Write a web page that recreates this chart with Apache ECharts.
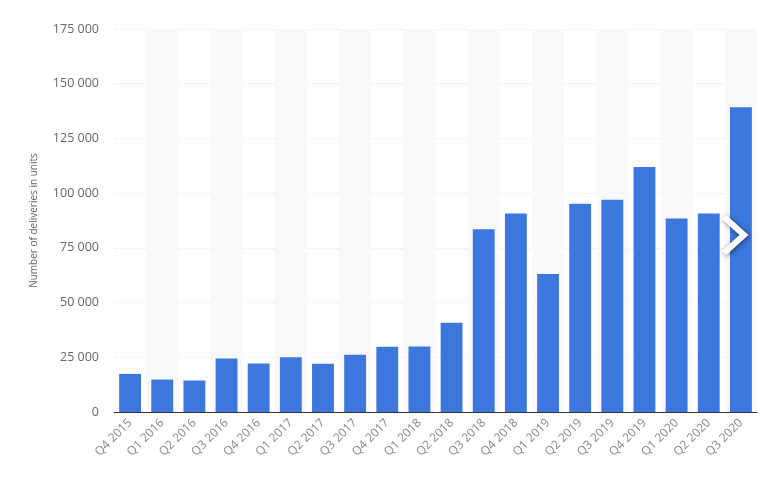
<!DOCTYPE html>
<html><head><meta charset="utf-8">
<script src="https://cdn.jsdelivr.net/npm/echarts@6/dist/echarts.min.js"></script>
<style>html,body{margin:0;padding:0;background:#fff}#c{width:773px;height:486px}</style>
</head><body><div id="c"></div>
<script>
const categories = ['Q4 2015','Q1 2016','Q2 2016','Q3 2016','Q4 2016','Q1 2017','Q2 2017','Q3 2017','Q4 2017','Q1 2018','Q2 2018','Q3 2018','Q4 2018','Q1 2019','Q2 2019','Q3 2019','Q4 2019','Q1 2020','Q2 2020','Q3 2020'];
const deliveries = [17400,14820,14400,24500,22200,25000,22000,26150,29870,29980,40740,83500,90700,63000,95200,97000,112000,88400,90650,139300];
const yTicks = [0,25000,50000,75000,100000,125000,150000,175000];
const yTitle = 'Number of deliveries in units';

const chart = echarts.init(document.getElementById('c'));
chart.setOption({
  animation:false,
  grid:{left:114,right:16,top:29,bottom:74},
  xAxis:{type:'category',data:categories,boundaryGap:true,
    axisLine:{lineStyle:{color:'#333',width:1}},
    axisTick:{show:false},
    axisLabel:{rotate:45,color:'#888',fontSize:12,fontFamily:'Open Sans',margin:9,interval:0},
    splitArea:{show:true,areaStyle:{color:['rgba(255,255,255,0)','#f8f8f8']}}
  },
  yAxis:{type:'value',min:yTicks[0],max:yTicks[yTicks.length-1],interval:25000,
    name:yTitle,nameLocation:'middle',nameGap:75,
    nameTextStyle:{color:'#666',fontSize:10,fontFamily:'Open Sans'},
    axisLine:{show:false},axisTick:{show:false},
    axisLabel:{color:'#666',fontSize:12.5,fontFamily:'Open Sans',margin:15,
      formatter:v=>String(v).replace(/\B(?=(\d{3})+(?!\d))/g,' ')},
    splitLine:{lineStyle:{color:'#e6e6e6',type:'dotted'}}
  },
  series:[{type:'bar',data:deliveries,barWidth:'68%',itemStyle:{color:'#3c77dd'}}],
  graphic:[{type:'polyline',z:100,x:724,y:217,
    shape:{points:[[0,0],[20,18],[0,36]]},
    style:{stroke:'#ffffff',lineWidth:6,fill:'none',shadowBlur:5,shadowColor:'rgba(0,0,0,0.5)',shadowOffsetX:1,shadowOffsetY:1}}]
});
</script></body></html>
